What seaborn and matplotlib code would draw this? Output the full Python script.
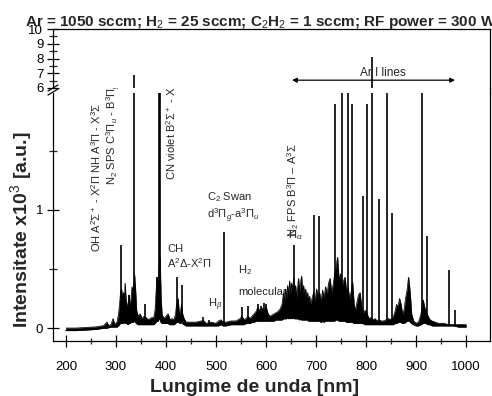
import numpy as np
import matplotlib
matplotlib.use('Agg')
import matplotlib.pyplot as plt
import seaborn as sns
from matplotlib.lines import Line2D
from matplotlib.ticker import MultipleLocator

# ---- data ----
# noise band of the continuum (lower and upper envelope), wavelength in nm, intensity x10^3 a.u.
band_nm = [200, 220, 240, 260, 275, 282, 285, 290, 294, 297, 302, 305, 307, 309, 311, 313, 315, 317,
           318, 320, 322, 324, 326, 328, 330, 332, 334, 337, 339, 341, 344, 348, 352, 356, 360, 364,
           368, 372, 375, 378, 380, 382, 384, 386, 388, 390, 392, 396, 400, 404, 408, 412, 416, 419,
           421, 424, 426, 428, 431, 433, 436, 440, 450, 460, 470, 476, 480, 490, 500, 505, 510, 514,
           520, 530, 540, 548, 552, 556, 560, 564, 568, 572, 576, 580, 584, 588, 592, 596, 600, 604,
           608, 612, 616, 620, 624, 628, 632, 635, 637, 639, 641, 643, 645, 647, 649, 651, 653, 655,
           657, 659, 661, 663, 665, 667, 669, 671, 673, 675, 677, 679, 681, 683, 685, 687, 689, 692,
           695, 698, 701, 704, 707, 710, 713, 716, 719, 722, 725, 728, 731, 734, 737, 740, 743, 746,
           749, 752, 755, 758, 761, 764, 767, 770, 773, 776, 779, 782, 785, 788, 791, 794, 798, 802,
           806, 810, 814, 818, 822, 826, 830, 835, 840, 845, 850, 855, 858, 861, 864, 867, 870, 873,
           876, 879, 882, 885, 887, 889, 891, 895, 900, 905, 910, 914, 917, 920, 924, 928, 932, 938,
           945, 955, 965, 975, 985, 1000]
band_low = [-0.02, -0.02, -0.015, -0.01, 0.0, 0.0, 0.005, 0.01, 0.01, 0.01, 0.01, 0.02, 0.03, 0.05,
            0.04, 0.04, 0.04, 0.05, 0.05, 0.04, 0.04, 0.03, 0.04, 0.04, 0.05, 0.05, 0.05, 0.06, 0.05,
            0.04, 0.03, 0.03, 0.03, 0.03, 0.03, 0.03, 0.03, 0.03, 0.03, 0.04, 0.05, 0.06, 0.06, 0.08,
            0.08, 0.05, 0.04, 0.04, 0.04, 0.04, 0.03, 0.03, 0.03, 0.04, 0.05, 0.05, 0.05, 0.04, 0.05,
            0.04, 0.03, 0.02, 0.02, 0.02, 0.02, 0.02, 0.02, 0.02, 0.02, 0.02, 0.03, 0.02, 0.02, 0.03,
            0.03, 0.03, 0.03, 0.03, 0.04, 0.04, 0.04, 0.05, 0.05, 0.06, 0.06, 0.06, 0.06, 0.06, 0.06,
            0.06, 0.06, 0.06, 0.06, 0.07, 0.07, 0.07, 0.07, 0.08, 0.08, 0.08, 0.08, 0.09, 0.08, 0.09,
            0.08, 0.09, 0.08, 0.09, 0.08, 0.08, 0.08, 0.08, 0.08, 0.07, 0.08, 0.07, 0.07, 0.07, 0.07,
            0.07, 0.07, 0.07, 0.06, 0.06, 0.06, 0.06, 0.06, 0.06, 0.06, 0.06, 0.06, 0.05, 0.06, 0.05,
            0.06, 0.06, 0.06, 0.06, 0.06, 0.06, 0.06, 0.07, 0.07, 0.06, 0.06, 0.06, 0.06, 0.06, 0.05,
            0.05, 0.05, 0.05, 0.05, 0.04, 0.04, 0.04, 0.04, 0.04, 0.04, 0.04, 0.03, 0.03, 0.03, 0.03,
            0.03, 0.03, 0.03, 0.03, 0.03, 0.03, 0.03, 0.03, 0.03, 0.03, 0.04, 0.04, 0.05, 0.05, 0.05,
            0.04, 0.04, 0.05, 0.06, 0.06, 0.06, 0.05, 0.04, 0.03, 0.02, 0.02, 0.03, 0.04, 0.04, 0.04,
            0.03, 0.03, 0.02, 0.02, 0.02, 0.02, 0.02, 0.02, 0.01, 0.01]
band_high = [0.0, 0.0, 0.005, 0.01, 0.02, 0.05, 0.02, 0.03, 0.08, 0.03, 0.05, 0.12, 0.2, 0.3, 0.33,
             0.25, 0.3, 0.22, 0.38, 0.24, 0.2, 0.15, 0.28, 0.18, 0.25, 0.35, 0.3, 0.45, 0.32, 0.15,
             0.1, 0.12, 0.08, 0.1, 0.09, 0.07, 0.08, 0.09, 0.08, 0.15, 0.3, 0.43, 0.3, 0.5, 0.6, 0.25,
             0.11, 0.08, 0.1, 0.12, 0.07, 0.08, 0.07, 0.12, 0.2, 0.25, 0.14, 0.12, 0.2, 0.12, 0.08,
             0.05, 0.05, 0.05, 0.06, 0.06, 0.04, 0.05, 0.04, 0.06, 0.07, 0.05, 0.05, 0.06, 0.06, 0.08,
             0.1, 0.07, 0.08, 0.1, 0.08, 0.1, 0.12, 0.14, 0.18, 0.13, 0.17, 0.14, 0.18, 0.12, 0.1,
             0.11, 0.12, 0.13, 0.14, 0.16, 0.2, 0.3, 0.22, 0.33, 0.25, 0.36, 0.28, 0.4, 0.3, 0.38,
             0.32, 0.42, 0.3, 0.36, 0.26, 0.34, 0.42, 0.3, 0.38, 0.44, 0.3, 0.36, 0.27, 0.33, 0.25,
             0.3, 0.22, 0.27, 0.2, 0.25, 0.3, 0.22, 0.33, 0.26, 0.3, 0.22, 0.32, 0.25, 0.35, 0.28,
             0.38, 0.42, 0.3, 0.36, 0.45, 0.52, 0.6, 0.4, 0.46, 0.35, 0.4, 0.43, 0.3, 0.34, 0.25,
             0.3, 0.39, 0.2, 0.15, 0.22, 0.28, 0.3, 0.18, 0.12, 0.15, 0.12, 0.08, 0.09, 0.07, 0.08,
             0.06, 0.07, 0.06, 0.06, 0.07, 0.08, 0.07, 0.1, 0.14, 0.2, 0.18, 0.25, 0.2, 0.12, 0.15,
             0.25, 0.32, 0.43, 0.35, 0.25, 0.12, 0.06, 0.04, 0.05, 0.12, 0.24, 0.18, 0.14, 0.1, 0.07,
             0.06, 0.05, 0.04, 0.04, 0.03, 0.03, 0.03, 0.03]

# sharp emission lines
peak_nm = [310, 316, 326, 336, 358, 382, 386, 388, 422, 432, 474, 486, 516, 552, 564, 584, 590,
           596, 600, 656, 696, 706, 738, 752, 764, 772, 794, 802, 812, 826, 842, 852, 912, 922,
           966, 978]
peak_int = [0.70, 0.30, 0.28, 6.9, 0.20, 0.43, 5.0, 5.0, 0.43, 0.36, 0.09, 0.07, 0.81, 0.18, 0.19,
            0.20, 0.19, 0.21, 0.20, 0.70, 0.96, 0.95, 1.90, 4.0, 4.0, 1.90, 1.12, 1.90, 8.1, 1.09,
            4.0, 0.97, 3.0, 0.78, 0.49, 0.15]

x_major = [200, 300, 400, 500, 600, 700, 800, 900, 1000]
y_low_ticks = [0, 1]
y_high_ticks = [6, 7, 8, 9, 10]

title = (r'Ar = 1050 sccm; H$_2$ = 25 sccm; C$_2$H$_2$ = 1 sccm; RF power = 300 W')
xlabel = 'Lungime de unda [nm]'
ylabel = r'Intensitate x10$^3$ [a.u.]'

# ---- style ----
sns.set_theme(style='ticks')
plt.rcParams['font.family'] = ['Liberation Sans', 'DejaVu Sans']
plt.rcParams['mathtext.fontset'] = 'custom'
plt.rcParams['mathtext.rm'] = 'Liberation Sans'
plt.rcParams['mathtext.it'] = 'Liberation Sans:italic'
plt.rcParams['mathtext.bf'] = 'Liberation Sans:bold'
plt.rcParams['mathtext.sf'] = 'Liberation Sans'

W, H = 492, 396
fig = plt.figure(figsize=(W / 100, H / 100), dpi=100)
fig.patch.set_facecolor('white')


def fx(px):
    return px / W


def fy(py):
    return 1 - py / H


ax = fig.add_axes([fx(53), fy(341), fx(490) - fx(53), fy(93) - fy(341)])
axt = fig.add_axes([fx(53), fy(88), fx(490) - fx(53), fy(29) - fy(88)])

feet = np.interp(peak_nm, band_nm, band_low)
for a in (ax, axt):
    a.set_facecolor('white')
    a.fill_between(band_nm, band_low, band_high, color='black', lw=0.3)
    sns.lineplot(x=band_nm, y=band_high, ax=a, color='black', lw=0.5, estimator=None, sort=False)
    sns.lineplot(x=band_nm, y=band_low, ax=a, color='black', lw=1.0, estimator=None, sort=False)
    a.vlines(peak_nm, feet, peak_int, color='black', lw=1.2)
    a.set_xlim(174, 1048)
    a.set_xlabel('')
    a.set_ylabel('')
    for s in a.spines.values():
        s.set_linewidth(0.9)
        s.set_color('black')

ax.set_ylim(-0.110, 1.99)
axt.set_ylim(6, 10)
ax.spines['top'].set_visible(False)
axt.spines['bottom'].set_visible(False)

ax.set_xticks(x_major)
ax.xaxis.set_minor_locator(MultipleLocator(50))
ax.set_yticks(y_low_ticks)
ax.yaxis.set_minor_locator(MultipleLocator(0.5))
axt.set_yticks(y_high_ticks)
axt.yaxis.set_minor_locator(MultipleLocator(0.5))
axt.tick_params(axis='x', which='both', bottom=False, top=False, labelbottom=False)

ax.tick_params(axis='x', which='major', direction='inout', length=9, width=0.9, pad=10,
               labelsize=9.5, colors='black')
ax.tick_params(axis='x', which='minor', direction='inout', length=5, width=0.9)
for a in (ax, axt):
    a.tick_params(axis='y', which='major', direction='inout', length=9, width=0.9, pad=2.5,
                  labelsize=9.5, colors='black', right=False)
    a.tick_params(axis='y', which='minor', direction='inout', length=6, width=0.9, right=False)

# break marks on the left axis and the joined right spine
for y0 in (91, 95):
    fig.add_artist(Line2D([fx(48), fx(58)], [fy(y0), fy(y0 - 6)], color='black', lw=0.9))
fig.add_artist(Line2D([fx(490), fx(490)], [fy(88), fy(93)], color='black', lw=0.9))

# ---- texts ----
fs = 8
ax.text(260, 0.64, r'OH A$^2\Sigma^+$ - X$^2\Pi$ NH A$^3\Pi$ - X$^3\Sigma$', rotation=90,
        ha='center', va='bottom', fontsize=fs)
ax.text(295, 1.21, r'N$_2$ SPS C$^3\Pi_u$ - B$^3\Pi_g$', rotation=90, ha='center', va='bottom',
        fontsize=fs)
ax.text(411, 1.25, r'CN violet B$^2\Sigma^+$ - X$^2\Sigma^+$', rotation=90, ha='center',
        va='bottom', fontsize=fs)
ax.text(482, 1.11, r'C$_2$ Swan', ha='left', va='center', fontsize=fs)
ax.text(482, 0.95, r'd$^3\Pi_g$-a$^3\Pi_u$', ha='left', va='center', fontsize=fs)
ax.text(402, 0.67, 'CH', ha='left', va='center', fontsize=fs)
ax.text(402, 0.55, r'A$^2\Delta$-X$^2\Pi$', ha='left', va='center', fontsize=fs)
ax.text(544, 0.49, r'H$_2$', ha='left', va='center', fontsize=fs)
ax.text(544, 0.305, 'molecular', ha='left', va='center', fontsize=fs)
ax.text(484, 0.20, r'H$_\beta$', ha='left', va='center', fontsize=fs)
ax.text(644, 0.76, r'H$_\alpha$', ha='left', va='baseline', fontsize=fs)
ax.text(654, 0.77, r'N$_2$ FPS B$^3\Pi$ – A$^3\Sigma$', rotation=90, ha='center', va='bottom',
        fontsize=fs)

axt.text(834, 6.62, 'Ar I lines', ha='center', va='bottom', fontsize=8.5)
axt.annotate('', xy=(652, 6.53), xytext=(978, 6.53),
             arrowprops=dict(arrowstyle='<|-|>', color='black', lw=0.9,
                             mutation_scale=7, shrinkA=0, shrinkB=0))

fig.text(fx(261), fy(26), title, ha='center', va='baseline', fontsize=11, fontweight='bold')
fig.text(fx(255), fy(392), xlabel, ha='center', va='baseline', fontsize=14, fontweight='bold')
fig.text(fx(21), fy(230), ylabel, ha='center', va='center', rotation=90, fontsize=14,
         fontweight='bold')

fig.savefig('out.png', dpi=100, facecolor='white')
